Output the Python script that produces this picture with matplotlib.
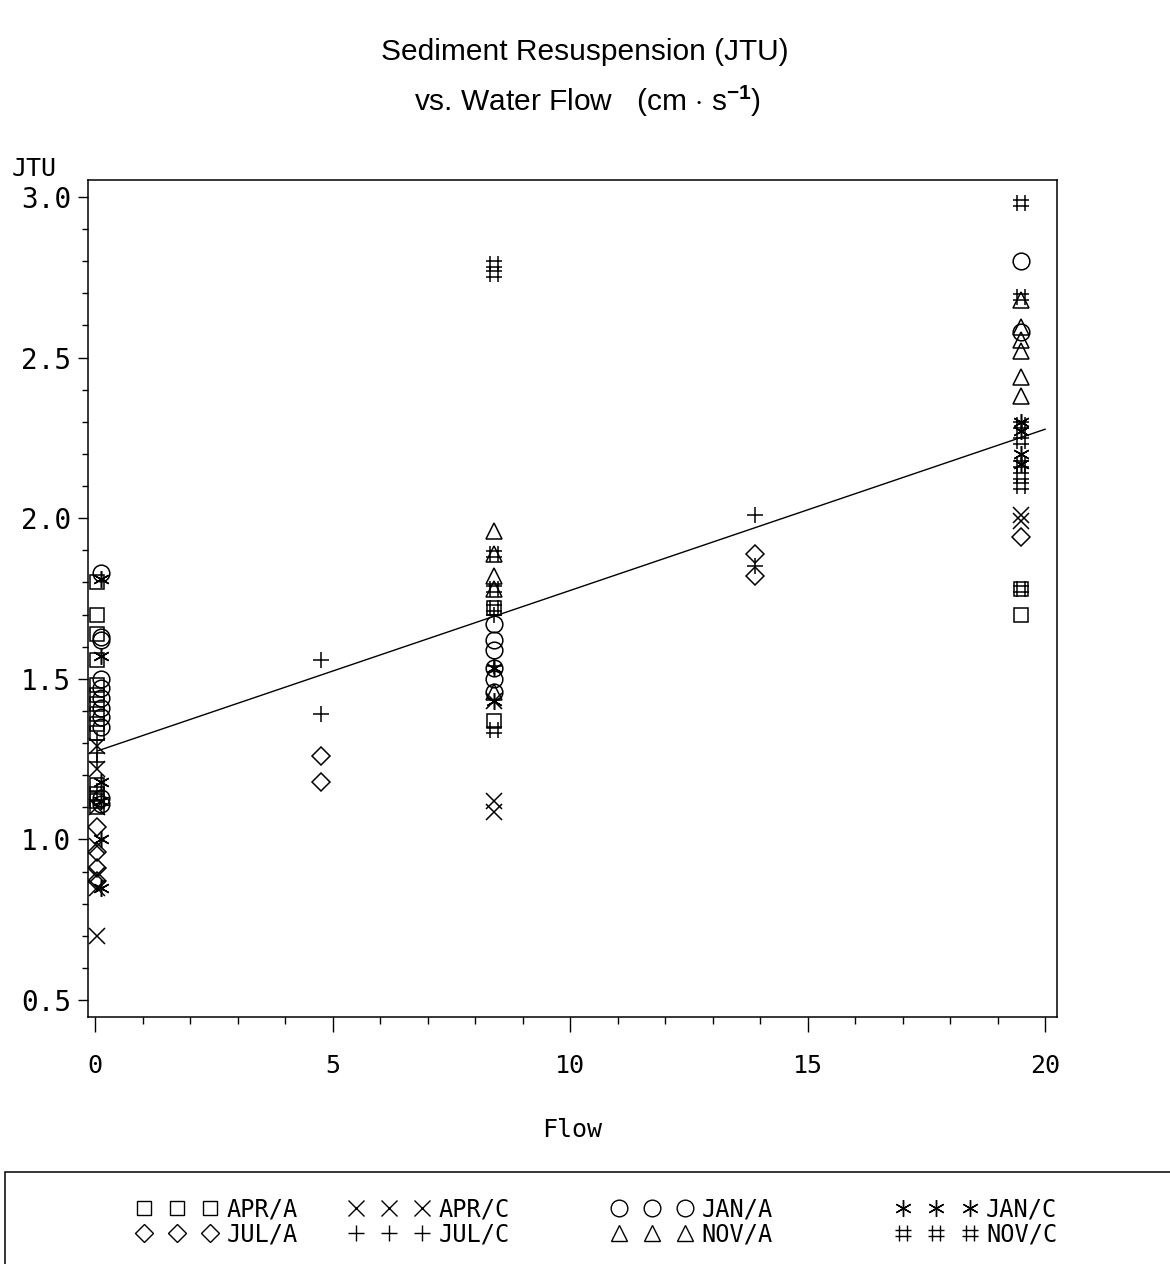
import matplotlib
matplotlib.use('agg')
import matplotlib.pyplot as plt
from matplotlib.path import Path
from matplotlib.lines import Line2D
from matplotlib.patches import Rectangle

plt.rcParams['mathtext.fontset'] = 'custom'
plt.rcParams['mathtext.rm'] = 'Liberation Sans'
plt.rcParams['mathtext.bf'] = 'Liberation Sans:bold'

# flow (cm/s) and turbidity (JTU) per month/site
apr_a_flow = [0.05] * 14 + [8.4] * 2 + [19.5] * 2
apr_a_jtu = [1.80, 1.70, 1.64, 1.56, 1.48, 1.45, 1.42, 1.39, 1.36, 1.33, 1.14, 1.12, 1.10,
             1.17, 1.72, 1.37, 1.78, 1.70]

apr_c_flow = [0.05] * 7 + [8.4] * 3 + [19.5] * 2
apr_c_jtu = [1.29, 1.22, 1.10, 0.98, 0.89, 0.85, 0.70, 1.43, 1.12, 1.085, 2.01, 1.99]

jan_a_flow = [0.12] * 11 + [8.4] * 6 + [19.5] * 2
jan_a_jtu = [1.83, 1.63, 1.62, 1.50, 1.47, 1.44, 1.41, 1.38, 1.35, 1.13, 1.11,
             1.67, 1.62, 1.59, 1.535, 1.50, 1.46, 2.80, 2.58]

jan_c_flow = [0.12] * 6 + [8.4] * 2 + [19.5] * 4
jan_c_jtu = [1.81, 1.57, 1.18, 1.12, 1.00, 0.85, 1.535, 1.43, 2.30, 2.27, 2.20, 2.17]

jul_a_flow = [0.05] * 4 + [4.75] * 2 + [13.9] * 2 + [19.5]
jul_a_jtu = [1.04, 0.96, 0.91, 0.87, 1.26, 1.18, 1.89, 1.82, 1.94]

jul_c_flow = [0.05] * 4 + [4.75] * 2 + [13.9] * 2 + [8.4] * 2
jul_c_jtu = [1.31, 1.27, 1.24, 1.15, 1.56, 1.39, 2.01, 1.85, 1.70, 1.54]

nov_a_flow = [8.4] * 5 + [19.5] * 6
nov_a_jtu = [1.96, 1.89, 1.82, 1.78, 1.46, 2.68, 2.595, 2.555, 2.52, 2.44, 2.38]

nov_c_flow = [8.4] * 6 + [19.5] * 8
nov_c_jtu = [2.79, 2.76, 1.89, 1.78, 1.72, 1.34,
             2.98, 2.69, 2.29, 2.24, 2.17, 2.13, 2.10, 1.78]

# fitted regression line
fit_intercept = 1.273
fit_slope = 0.0502
fit_range = [0.05, 20.0]

# '#' marker
hash_marker = Path(
    [(-0.3, -0.6), (-0.3, 0.6), (0.3, -0.6), (0.3, 0.6),
     (-0.6, -0.25), (0.6, -0.25), (-0.6, 0.25), (0.6, 0.25)],
    [Path.MOVETO, Path.LINETO] * 4)

series = [
    ('APR/A', apr_a_flow, apr_a_jtu, 's', 10),
    ('JUL/A', jul_a_flow, jul_a_jtu, 'D', 9),
    ('APR/C', apr_c_flow, apr_c_jtu, 'x', 11),
    ('JUL/C', jul_c_flow, jul_c_jtu, '+', 12),
    ('JAN/A', jan_a_flow, jan_a_jtu, 'o', 12),
    ('NOV/A', nov_a_flow, nov_a_jtu, '^', 12),
    ('JAN/C', jan_c_flow, jan_c_jtu, (6, 2, 0), 12),
    ('NOV/C', nov_c_flow, nov_c_jtu, hash_marker, 12),
]

mono = 'DejaVu Sans Mono'

fig = plt.figure(figsize=(11.7, 12.64), dpi=100)
ax = fig.add_axes([0.0752, 0.1954, 0.8282, 0.6622])

for name, fx, jy, mk, ms in series:
    ax.plot(fx, jy, linestyle='none', marker=mk, markersize=ms,
            markerfacecolor='none', markeredgecolor='black',
            markeredgewidth=1.1, color='black')

ax.plot(fit_range, [fit_intercept + fit_slope * v for v in fit_range],
        color='black', linewidth=1.0)

ax.set_xlim(-0.15, 20.25)
ax.set_ylim(0.447, 3.053)
ax.set_xticks([0, 5, 10, 15, 20])
ax.set_xticks(range(0, 21), minor=True)
ax.set_yticks([0.5, 1.0, 1.5, 2.0, 2.5, 3.0])
ax.set_yticks([0.5 + 0.1 * i for i in range(26)], minor=True)
ax.set_yticklabels(['0.5', '1.0', '1.5', '2.0', '2.5', '3.0'])
ax.tick_params(axis='x', direction='out', length=11, width=1, labelsize=18, pad=15.5)
ax.tick_params(axis='x', which='minor', direction='out', length=5, width=1)
ax.tick_params(axis='y', direction='out', length=7, width=1, labelsize=20, pad=5)
ax.tick_params(axis='y', which='minor', direction='out', length=4, width=1)
for lab in ax.get_xticklabels() + ax.get_yticklabels():
    lab.set_fontfamily(mono)
for sp in ax.spines.values():
    sp.set_linewidth(1.1)

ax.set_xlabel('Flow', fontfamily=mono, fontsize=18, labelpad=29)
fig.text(0.01, 0.866, 'JTU', fontfamily=mono, fontsize=18, ha='left', va='center')

fig.text(0.5, 0.959, 'Sediment Resuspension (JTU)', fontfamily='Liberation Sans',
         fontsize=21.5, ha='center', va='center')
fig.text(0.502, 0.920, 'vs. Water Flow   (cm $\\cdot$ s$^{\\mathbf{-1}}$)',
         fontfamily='Liberation Sans', fontsize=21.5, ha='center', va='center')

# legend panel, one column of entries per legend
fig.patches.append(Rectangle((0.004, -0.05), 1.1, 0.123, transform=fig.transFigure,
                             fill=False, edgecolor='black', linewidth=1.1))
handles = [Line2D([], [], linestyle='none', marker=mk, markersize=ms,
                  markerfacecolor='none', markeredgecolor='black', markeredgewidth=1)
           for _, _, _, mk, ms in series]
col_x = [0.107, 0.288, 0.513, 0.756]
for i, cx in enumerate(col_x):
    fig.legend(handles[2 * i:2 * i + 2], [s[0] for s in series[2 * i:2 * i + 2]],
               numpoints=3, frameon=False, loc='center left',
               bbox_to_anchor=(cx, 0.0335), prop={'family': mono, 'size': 17},
               handlelength=3.4, handletextpad=0.4, labelspacing=0.05, borderpad=0)

fig.savefig('out.png', dpi=100)
